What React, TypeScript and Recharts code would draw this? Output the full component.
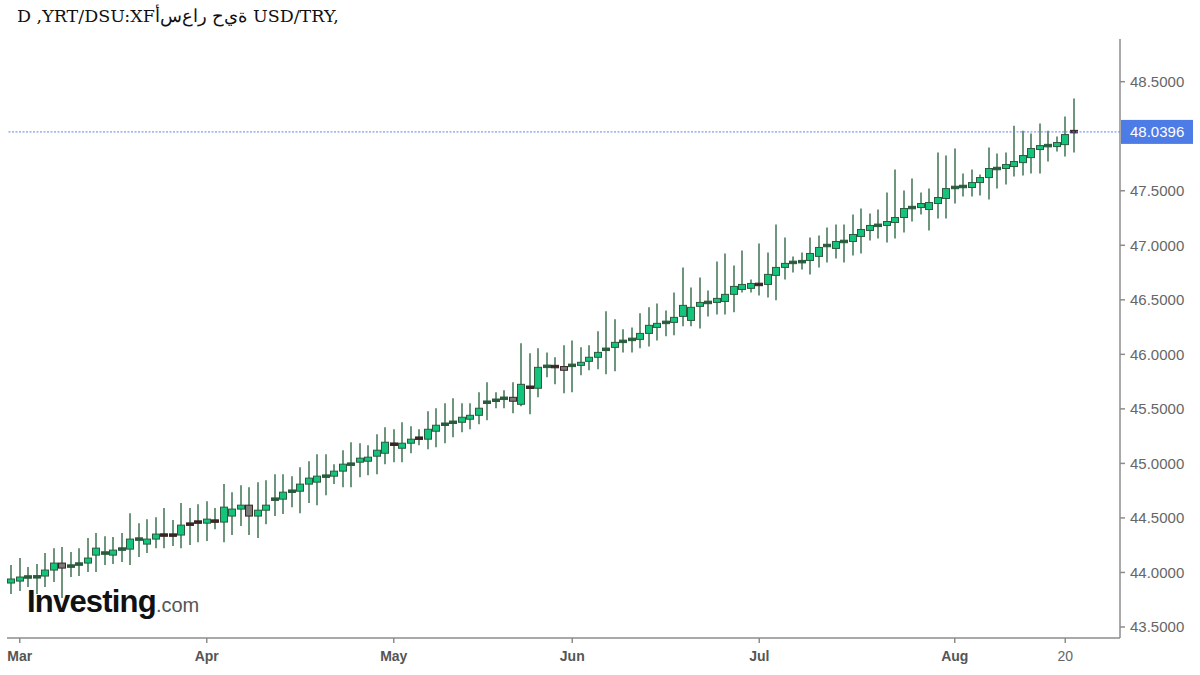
import React from 'react'
import { ComposedChart, Bar, XAxis, YAxis, ReferenceLine } from 'recharts'

// daily USD/TRY candles, Feb 27 -> Aug 21 (weekdays only)
const START_DATE = '2026-02-27'

const OPEN = [
  43.903, 43.921, 43.955, 43.958, 43.967, 44.022, 44.086, 44.055, 44.072, 44.086,
  44.159, 44.175, 44.159, 44.211, 44.214, 44.303, 44.26, 44.306, 44.346, 44.346,
  44.343, 44.446, 44.465, 44.452, 44.474, 44.462, 44.517, 44.581, 44.617, 44.517,
  44.571, 44.669, 44.672, 44.742, 44.745, 44.81, 44.828, 44.88, 44.883, 44.929,
  44.99, 45.011, 45.02, 45.066, 45.093, 45.179, 45.139, 45.185, 45.234, 45.222,
  45.295, 45.356, 45.374, 45.377, 45.405, 45.441, 45.558, 45.576, 45.594, 45.606,
  45.542, 45.701, 45.689, 45.887, 45.891, 45.888, 45.896, 45.899, 45.936, 45.973,
  46.043, 46.064, 46.116, 46.134, 46.137, 46.192, 46.247, 46.29, 46.293, 46.348,
  46.311, 46.44, 46.473, 46.476, 46.485, 46.55, 46.595, 46.605, 46.644, 46.641,
  46.724, 46.797, 46.84, 46.847, 46.861, 46.898, 46.995, 46.971, 47.032, 47.035,
  47.081, 47.136, 47.18, 47.182, 47.209, 47.255, 47.343, 47.346, 47.328, 47.383,
  47.429, 47.527, 47.536, 47.53, 47.575, 47.621, 47.701, 47.704, 47.722, 47.758,
  47.804, 47.878, 47.911, 47.905, 47.923, 48.045,
]

const HIGH = [
  44.068, 44.132, 44.049, 44.077, 44.178, 44.223, 44.233, 44.187, 44.223, 44.315,
  44.361, 44.333, 44.324, 44.361, 44.544, 44.452, 44.489, 44.507, 44.59, 44.48,
  44.636, 44.59, 44.626, 44.654, 44.59, 44.81, 44.736, 44.8, 44.782, 44.828,
  44.846, 44.901, 44.901, 44.883, 44.965, 45.02, 45.084, 45.084, 44.993, 45.121,
  45.194, 45.185, 45.167, 45.267, 45.332, 45.313, 45.377, 45.341, 45.313, 45.478,
  45.506, 45.551, 45.597, 45.551, 45.551, 45.652, 45.744, 45.652, 45.67, 45.744,
  46.101, 46.009, 46.055, 46.018, 45.973, 46.083, 46.128, 46.064, 46.083, 46.211,
  46.394, 46.321, 46.229, 46.247, 46.376, 46.431, 46.467, 46.403, 46.568, 46.797,
  46.614, 46.705, 46.586, 46.852, 46.925, 46.815, 46.953, 46.687, 47.017, 46.934,
  47.191, 47.072, 46.898, 46.934, 47.072, 47.09, 47.163, 47.191, 47.191, 47.282,
  47.337, 47.291, 47.328, 47.484, 47.694, 47.502, 47.612, 47.484, 47.52, 47.85,
  47.823, 47.887, 47.658, 47.694, 47.649, 47.896, 47.841, 47.85, 48.097, 48.051,
  48.024, 48.116, 48.051, 47.997, 48.18, 48.345,
]

const LOW = [
  43.802, 43.83, 43.866, 43.802, 43.866, 43.912, 43.766, 43.958, 43.967, 44.004,
  44.004, 44.068, 44.077, 44.095, 44.068, 44.141, 44.178, 44.223, 44.223, 44.242,
  44.223, 44.251, 44.278, 44.288, 44.397, 44.278, 44.343, 44.425, 44.343, 44.315,
  44.443, 44.517, 44.535, 44.599, 44.544, 44.636, 44.617, 44.709, 44.81, 44.782,
  44.782, 44.874, 44.892, 44.901, 44.993, 45.011, 45.011, 45.093, 45.167, 45.13,
  45.148, 45.185, 45.24, 45.286, 45.313, 45.359, 45.396, 45.506, 45.506, 45.46,
  45.524, 45.451, 45.606, 45.79, 45.725, 45.643, 45.652, 45.808, 45.854, 45.863,
  45.817, 45.844, 46.018, 46.018, 46.055, 46.073, 46.128, 46.165, 46.174, 46.257,
  46.257, 46.238, 46.348, 46.366, 46.366, 46.385, 46.568, 46.568, 46.54, 46.522,
  46.495, 46.687, 46.751, 46.779, 46.733, 46.797, 46.843, 46.879, 46.843, 46.907,
  46.925, 47.044, 47.062, 47.026, 47.062, 47.117, 47.218, 47.282, 47.136, 47.246,
  47.246, 47.383, 47.447, 47.447, 47.456, 47.42, 47.52, 47.557, 47.63, 47.64,
  47.658, 47.658, 47.768, 47.859, 47.813, 47.85,
]

const CLOSE = [
  43.94, 43.958, 43.962, 43.962, 44.022, 44.086, 44.04, 44.062, 44.082, 44.132,
  44.223, 44.181, 44.205, 44.218, 44.306, 44.309, 44.306, 44.352, 44.34, 44.339,
  44.434, 44.44, 44.459, 44.489, 44.468, 44.599, 44.581, 44.617, 44.517, 44.571,
  44.617, 44.675, 44.736, 44.748, 44.81, 44.865, 44.883, 44.886, 44.929, 44.993,
  44.996, 45.048, 45.057, 45.121, 45.194, 45.173, 45.185, 45.222, 45.228, 45.313,
  45.35, 45.362, 45.38, 45.423, 45.441, 45.506, 45.564, 45.582, 45.6, 45.57,
  45.725, 45.695, 45.881, 45.893, 45.885, 45.854, 45.902, 45.927, 45.973, 46.018,
  46.049, 46.11, 46.122, 46.14, 46.192, 46.266, 46.284, 46.296, 46.339, 46.449,
  46.431, 46.476, 46.479, 46.513, 46.55, 46.623, 46.641, 46.65, 46.638, 46.733,
  46.797, 46.834, 46.846, 46.853, 46.925, 46.98, 47.001, 47.035, 47.038, 47.099,
  47.145, 47.182, 47.186, 47.218, 47.255, 47.337, 47.349, 47.383, 47.392, 47.438,
  47.52, 47.533, 47.542, 47.575, 47.621, 47.704, 47.707, 47.74, 47.768, 47.823,
  47.887, 47.914, 47.917, 47.942, 48.015, 48.0396,
]

const TICK_DATES = ['2026-03-02', '2026-04-01', '2026-05-01', '2026-06-01', '2026-07-01', '2026-08-03', '2026-08-20']
const TICK_LABELS = ['Mar', 'Apr', 'May', 'Jun', 'Jul', 'Aug', '20']
// 48.0000 sits under the last-price tag in the original, so it is left out
const PRICE_TICKS = [43.5, 44, 44.5, 45, 45.5, 46, 46.5, 47, 47.5, 48.5]
const LAST_PRICE = 48.0396

const TITLE_LEFT = 'D ,YRT/DSU:XF'
const TITLE_AR = 'أسعار حية'
const TITLE_RIGHT = ' USD/TRY,'

const tradingDays = (start: string, count: number) => {
  const out: string[] = []
  const d = new Date(start + 'T00:00:00Z')
  while (out.length < count) {
    const wd = d.getUTCDay()
    if (wd !== 0 && wd !== 6) out.push(d.toISOString().slice(0, 10))
    d.setUTCDate(d.getUTCDate() + 1)
  }
  return out
}

const DATES = tradingDays(START_DATE, CLOSE.length)

const data = DATES.map((date, i) => ({
  date,
  open: OPEN[i],
  high: HIGH[i],
  low: LOW[i],
  close: CLOSE[i],
  range: [LOW[i], HIGH[i]],
}))

const SANS = '"Liberation Sans", Arial, sans-serif'

const Candle = (props: any) => {
  const { x, y, width, height, payload } = props
  if (!payload) return null
  const { open, close, high, low } = payload
  const cx = Math.round(x + width / 2)
  const toY = (v: number) => y + ((high - v) / (high - low)) * height
  const yo = toY(open)
  const yc = toY(close)
  const up = close >= open
  let top = Math.min(yo, yc)
  let h = Math.abs(yc - yo)
  const border = up ? '#2b5b3d' : '#3a2626'
  const thin = h < 3
  if (thin) {
    top = (yo + yc) / 2 - 1.25
    h = 2.5
  }
  return (
    <g>
      <line x1={cx} x2={cx} y1={y} y2={y + height} stroke="#5f8b6f" strokeWidth={1.8} />
      <rect
        x={cx - 3.5}
        y={top}
        width={7}
        height={h}
        fill={thin ? border : up ? '#14c47c' : '#7b7b7b'}
        stroke={border}
        strokeWidth={1}
      />
    </g>
  )
}

const DateTick = ({ x, y, payload }: any) => {
  const label = TICK_LABELS[TICK_DATES.indexOf(payload.value)] ?? ''
  const isMonth = /^[A-Z]/.test(label)
  return (
    <text
      x={x}
      y={y}
      dy="0.71em"
      textAnchor="middle"
      fontSize={14}
      fontWeight={isMonth ? 700 : 400}
      fill={isMonth ? '#555' : '#666'}
      fontFamily={SANS}
    >
      {label}
    </text>
  )
}

const PriceTag = (props: any) => {
  const vb = props.viewBox || {}
  const right = (vb.x ?? 0) + (vb.width ?? 0)
  const cy = vb.y ?? 0
  return (
    <g>
      <rect x={right + 1} y={cy - 12} width={72} height={24} fill="#4d7ce6" />
      <text x={right + 10} y={cy} dy="0.36em" fontSize={15} fill="#fff" fontFamily={SANS}>
        {LAST_PRICE.toFixed(4)}
      </text>
    </g>
  )
}

const App = () => {
  return (
    <div style={{ position: 'absolute', left: 0, top: 0, width: 1200, height: 675, background: '#fff' }}>
      <svg width={1200} height={40} style={{ position: 'absolute', left: 0, top: 0 }}>
        <text
          x={17}
          y={22}
          fontSize={17.5}
          fill="#111"
          fontFamily='"DejaVu Serif", serif'
          style={{ unicodeBidi: 'bidi-override', direction: 'ltr' }}
        >
          {TITLE_LEFT + TITLE_AR.split('').join('\u200c') + TITLE_RIGHT}
        </text>
      </svg>
      <ComposedChart
        width={1200}
        height={675}
        data={data}
        margin={{ top: 39, right: 0, bottom: 7, left: 7 }}
        style={{ position: 'absolute', left: 0, top: 0 }}
      >
        <XAxis
          dataKey="date"
          type="category"
          ticks={TICK_DATES}
          interval={0}
          tick={<DateTick />}
          height={30}
          tickSize={5}
          tickMargin={8}
          padding={{ left: 0, right: 42 }}
          axisLine={{ stroke: '#8c8c8c', strokeWidth: 1.5 }}
          tickLine={{ stroke: '#8c8c8c', strokeWidth: 1.5 }}
        />
        <YAxis
          orientation="right"
          width={80}
          type="number"
          domain={[43.399, 48.8915]}
          allowDataOverflow
          ticks={PRICE_TICKS}
          interval={0}
          tickFormatter={(v: number) => v.toFixed(4)}
          tickSize={5}
          tickMargin={5}
          tick={{ fontSize: 15, fill: '#666', fontFamily: SANS }}
          axisLine={{ stroke: '#8c8c8c', strokeWidth: 1.5 }}
          tickLine={{ stroke: '#8c8c8c', strokeWidth: 1.5 }}
        />
        <ReferenceLine
          y={LAST_PRICE}
          stroke="#5f82f0"
          strokeDasharray="2 1.5"
          strokeWidth={1}
          label={(p: any) => <PriceTag {...p} />}
        />
        <Bar dataKey="range" shape={<Candle />} isAnimationActive={false} />
      </ComposedChart>
      <svg width={1200} height={675} style={{ position: 'absolute', left: 0, top: 0, pointerEvents: 'none' }}>
        <text x={27} y={612} fontFamily={SANS} fontWeight={700} fontSize={31} letterSpacing={-0.8} fill="#111">
          Investing
          <tspan fontWeight={400} fontSize={20} letterSpacing={0} fill="#555">.com</tspan>
        </text>
      </svg>
    </div>
  )
}

export default App
